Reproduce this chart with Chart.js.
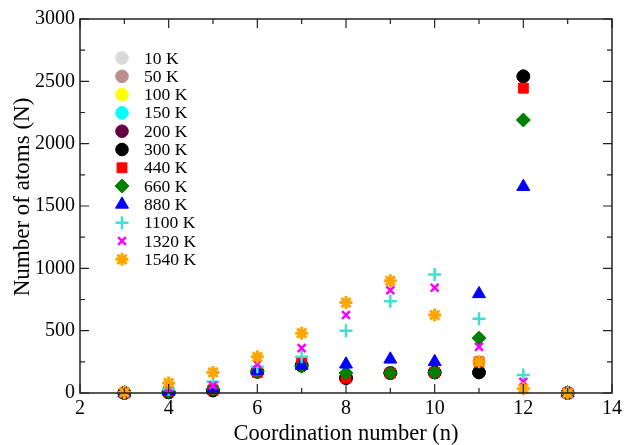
<!DOCTYPE html>
<html lang="en">
<head>
    <meta charset="UTF-8">
    <title>Coordination number distribution</title>
    <script src="https://cdn.jsdelivr.net/npm/chart.js"></script>
    <style>
        html, body { margin: 0; padding: 0; background: #fff; }
        .wrap { width: 626px; height: 445px; }
    </style>
</head>
<body>
    <div class="wrap"><canvas id="cnChart" width="626" height="445"></canvas></div>
<script>
    // coordination numbers (x)
    const coordNumbers = [3, 4, 5, 6, 7, 8, 9, 10, 11, 12, 13];
    const tempLabels = ['10 K', '50 K', '100 K', '150 K', '200 K', '300 K', '440 K', '660 K', '880 K', '1100 K', '1320 K', '1540 K'];

    // number of atoms per temperature
    const n10K   = [0, 5, 20, 170, 220, 120, 160, 165, 165, 2540, 0];
    const n50K   = [0, 5, 20, 170, 220, 120, 160, 165, 165, 2540, 0];
    const n100K  = [0, 5, 20, 170, 220, 120, 160, 165, 165, 2540, 0];
    const n150K  = [0, 5, 20, 170, 220, 120, 160, 165, 165, 2540, 0];
    const n200K  = [0, 5, 20, 170, 220, 120, 160, 165, 165, 2540, 0];
    const n300K  = [0, 5, 20, 170, 220, 120, 160, 165, 165, 2540, 0];
    const n440K  = [0, 10, 25, 165, 250, 120, 160, 165, 250, 2445, 0];
    const n660K  = [0, 10, 30, 175, 215, 160, 160, 165, 440, 2190, 0];
    const n880K  = [0, 15, 30, 180, 220, 230, 270, 250, 795, 1655, 0];
    const n1100K = [2, 30, 90, 210, 290, 500, 735, 950, 595, 145, 2];
    const n1320K = [2, 40, 60, 230, 360, 625, 825, 845, 370, 90, 0];
    const n1540K = [5, 80, 165, 290, 480, 725, 900, 625, 250, 35, 0];

    const seriesValues = [n10K, n50K, n100K, n150K, n200K, n300K, n440K, n660K, n880K, n1100K, n1320K, n1540K];

    // marker styles
    const colors = ['#d9d9d9', '#bc8f8f', '#ffff00', '#00ffff', '#660044', '#000000',
                    '#ff0000', '#008000', '#0000ff', '#40e0d0', '#ff00ff', '#ffa500'];
    const shapes = ['circle', 'circle', 'circle', 'circle', 'circle', 'circle',
                    'rect', 'rectRot', 'triangle', 'cross', 'crossRot', 'star'];
    const radii  = [6.3, 6.3, 6.3, 6.3, 6.3, 6.3, 7, 7, 7.5, 6.5, 5.5, 6.5];
    const widths = [1, 1, 1, 1, 1, 1, 1, 1, 1, 2.5, 2.5, 3];

    const serif = "'Liberation Serif', 'Times New Roman', serif";

    const datasets = seriesValues.map(function (vals, i) {
        return {
            label: tempLabels[i],
            data: coordNumbers.map(function (n, k) { return { x: n, y: vals[k] }; }),
            pointStyle: shapes[i],
            pointRadius: radii[i],
            pointHoverRadius: radii[i],
            pointBorderWidth: widths[i],
            backgroundColor: colors[i],
            borderColor: colors[i],
            showLine: false,
            clip: false,
            order: seriesValues.length - i
        };
    });

    // frame with inward major/minor ticks on all sides, plus the y title
    const frameTicks = {
        id: 'frameTicks',
        afterDatasetsDraw(chart) {
            const ctx = chart.ctx;
            const a = chart.chartArea;
            const xs = chart.scales.x, ys = chart.scales.y;
            ctx.save();
            ctx.strokeStyle = '#222';
            ctx.lineWidth = 1.5;
            ctx.strokeRect(a.left, a.top, a.right - a.left, a.bottom - a.top);
            ctx.lineWidth = 1.2;
            ctx.beginPath();
            for (let v = 2; v <= 14; v += 1) {
                const px = xs.getPixelForValue(v);
                const len = v % 2 === 0 ? 9 : 5;
                ctx.moveTo(px, a.bottom); ctx.lineTo(px, a.bottom - len);
                ctx.moveTo(px, a.top); ctx.lineTo(px, a.top + len);
            }
            for (let v = 0; v <= 3000; v += 250) {
                const py = ys.getPixelForValue(v);
                const len = v % 500 === 0 ? 9 : 5;
                ctx.moveTo(a.left, py); ctx.lineTo(a.left + len, py);
                ctx.moveTo(a.right, py); ctx.lineTo(a.right - len, py);
            }
            ctx.stroke();

            // y axis title, set slightly above the plot centre as in the original
            ctx.translate(23, 197);
            ctx.rotate(-Math.PI / 2);
            ctx.fillStyle = '#000';
            ctx.font = '23px ' + serif;
            ctx.textAlign = 'center';
            ctx.textBaseline = 'middle';
            ctx.fillText('Number of atoms (N)', 0, 0);
            ctx.restore();
        }
    };

    // legend inside the plot area
    const innerLegend = {
        id: 'innerLegend',
        afterDraw(chart) {
            const ctx = chart.ctx;
            const x0 = 122, y0 = 58, step = 18.3;
            ctx.save();
            chart.data.datasets.forEach(function (ds, i) {
                const y = y0 + i * step;
                ctx.fillStyle = ds.backgroundColor;
                ctx.strokeStyle = ds.borderColor;
                ctx.lineWidth = ds.pointBorderWidth;
                Chart.helpers.drawPoint(ctx, {
                    pointStyle: ds.pointStyle,
                    radius: ds.pointRadius,
                    borderWidth: ds.pointBorderWidth,
                    rotation: 0
                }, x0, y);
                ctx.fillStyle = '#000';
                ctx.font = '17.5px ' + serif;
                ctx.textBaseline = 'middle';
                ctx.textAlign = 'left';
                ctx.fillText(ds.label, 144, y + 1);
            });
            ctx.restore();
        }
    };

    new Chart(document.getElementById('cnChart').getContext('2d'), {
        type: 'scatter',
        data: { datasets: datasets },
        options: {
            responsive: false,
            animation: false,
            events: [],
            layout: { padding: { top: 19, right: 13, left: 0, bottom: 0 } },
            plugins: {
                legend: { display: false },
                tooltip: { enabled: false }
            },
            scales: {
                x: {
                    type: 'linear',
                    min: 2, max: 14,
                    grid: { display: false, drawTicks: false },
                    border: { display: false },
                    ticks: { stepSize: 2, padding: 4, color: '#000', font: { family: serif, size: 20 } },
                    title: {
                        display: true,
                        text: 'Coordination number (n)',
                        color: '#000',
                        font: { family: serif, size: 22.5, lineHeight: 1.0 },
                        padding: { top: 0, bottom: 0 }
                    },
                    afterFit(scale) { scale.height = 52; }
                },
                y: {
                    min: 0, max: 3000,
                    grid: { display: false, drawTicks: false },
                    border: { display: false },
                    ticks: {
                        stepSize: 500, padding: 5, color: '#000',
                        font: { family: serif, size: 20 },
                        callback: function (v) { return String(v); }
                    },
                    afterFit(scale) { scale.width = 80; }
                }
            }
        },
        plugins: [frameTicks, innerLegend]
    });
</script>
</body>
</html>
